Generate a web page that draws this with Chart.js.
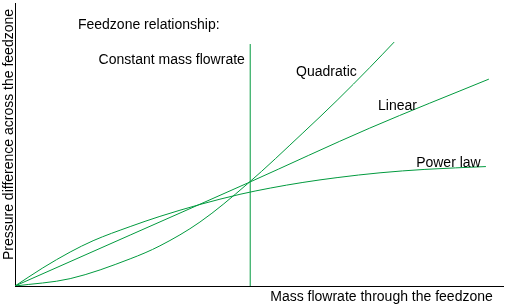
<!DOCTYPE html>
<html><head><meta charset="utf-8">
<script src="https://cdn.jsdelivr.net/npm/chart.js@4/dist/chart.umd.min.js"></script>
<style>html,body{margin:0;padding:0;background:#fff;overflow:hidden}</style>
</head><body>
<canvas id="c" width="511" height="304"></canvas>
<script>
// (arbitrary units, 0..100 on both axes)
const quadX  = [0, 11.3, 23.6, 29.7, 37.9, 47.7, 59.0, 66.0, 72.7, 77.7];
const quadY  = [0, 2.6, 9.6, 14.2, 22.6, 36.2, 54.1, 65.6, 77.2, 86.2];
const linX   = [0, 23.6, 47.7, 72.7, 97.1];
const linY   = [0, 18.0, 36.4, 55.8, 73.1];
const powX   = [0, 5.7, 11.3, 16.0, 23.6, 29.7, 37.9, 46.1, 52.3, 59.0, 66.0, 74.8, 84.0, 96.5];
const powY   = [0, 6.4, 12.0, 16.0, 21.0, 24.6, 28.8, 32.4, 34.6, 36.6, 38.3, 40.0, 41.2, 42.2];
const constX = [48.2, 48.2];
const constY = [0, 85.5];

const xTitle = 'Mass flowrate through the feedzone';
const yTitle = 'Pressure difference across the feedzone';
const notes = [
  {text: 'Feedzone relationship:', x: 12.9, y: 90.8, align: 'left'},
  {text: 'Constant mass flowrate', x: 47.1, y: 78.4, align: 'right'},
  {text: 'Quadratic', x: 57.6, y: 74.2, align: 'left'},
  {text: 'Linear', x: 74.4, y: 62.2, align: 'left'},
  {text: 'Power law', x: 82.2, y: 42.0, align: 'left'}
];

const GREEN = '#009a3e';
const FONT = '14px "Liberation Sans", Arial, sans-serif';
const pts = (xs, ys) => xs.map((x, i) => ({x, y: ys[i]}));
const ds = (data) => ({data, showLine: true, borderColor: GREEN, borderWidth: 1,
  pointRadius: 0, cubicInterpolationMode: 'monotone', fill: false});

const labelsPlugin = {
  id: 'labels',
  afterDraw(chart) {
    const {ctx, chartArea, scales} = chart;
    ctx.save();
    ctx.font = FONT;
    ctx.fillStyle = '#000';
    ctx.textBaseline = 'alphabetic';
    for (const n of notes) {
      ctx.textAlign = n.align;
      ctx.fillText(n.text, scales.x.getPixelForValue(n.x), scales.y.getPixelForValue(n.y));
    }
    ctx.textAlign = 'left';
    ctx.fillText(xTitle, scales.x.getPixelForValue(52.3), chartArea.bottom + 15);
    ctx.translate(chartArea.left - 2, (chartArea.top + chartArea.bottom) / 2 - 10);
    ctx.rotate(-Math.PI / 2);
    ctx.textAlign = 'center';
    ctx.fillText(yTitle, 0, 0);
    ctx.restore();
  }
};

new Chart(document.getElementById('c'), {
  type: 'scatter',
  data: {datasets: [ds(pts(quadX, quadY)), ds(pts(linX, linY)), ds(pts(powX, powY)),
    Object.assign(ds(pts(constX, constY)), {cubicInterpolationMode: 'default', tension: 0})]},
  options: {
    responsive: false, animation: false, devicePixelRatio: 1,
    layout: {padding: {top: 3, right: 8, left: 0, bottom: 0}},
    plugins: {legend: {display: false}, tooltip: {enabled: false}},
    scales: {
      x: {type: 'linear', min: 0, max: 100, grid: {display: false, drawTicks: false},
          ticks: {display: false}, border: {color: '#000', width: 1},
          afterFit(s) { s.height = 18; }},
      y: {type: 'linear', min: 0, max: 100, grid: {display: false, drawTicks: false},
          ticks: {display: false}, border: {color: '#000', width: 1},
          afterFit(s) { s.width = 15; }}
    }
  },
  plugins: [labelsPlugin]
});
</script>
</body></html>
